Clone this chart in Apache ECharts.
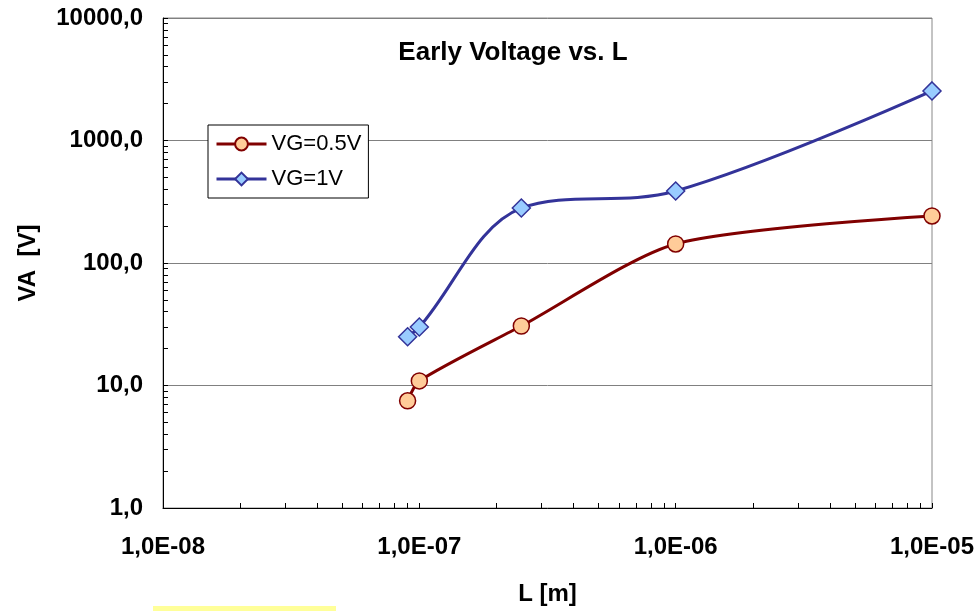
<!DOCTYPE html>
<html>
<head>
<meta charset="utf-8">
<script src="https://cdn.jsdelivr.net/npm/echarts@6/dist/echarts.min.js"></script>
<style>html,body{margin:0;padding:0;background:#fff}#c{width:979px;height:611px}</style>
</head>
<body>
<div id="c"></div>
<script>
// Data
const L = [9e-8, 1e-7, 2.5e-7, 1e-6, 1e-5];
const va05 = [7.5, 10.9, 30.6, 143, 242];
const va1 = [25, 30, 281, 387, 2540];
const seriesNames = ['VG=0.5V', 'VG=1V'];
const xTicks = [1e-8, 1e-7, 1e-6, 1e-5];
const yTicks = [1, 10, 100, 1000, 10000];

const FONT = 'Arial, "Liberation Sans", sans-serif';

function minorVals(lo, hi) {
  const out = [];
  for (let e = lo; e < hi; e++) {
    for (let m = 1; m <= 9; m++) out.push(parseFloat((m * Math.pow(10, e)).toPrecision(3)));
  }
  out.push(Math.pow(10, hi));
  return out;
}
function fmtX(v) {
  const e = Math.round(Math.log10(v));
  const m = v / Math.pow(10, e);
  return m.toFixed(1).replace('.', ',') + 'E' + (e < 0 ? '-' : '+') + String(Math.abs(e)).padStart(2, '0');
}
function fmtY(v) { return Number(v).toFixed(1).replace('.', ','); }

const chart = echarts.init(document.getElementById('c'), null, {renderer: 'canvas'});
const labelStyle = {fontFamily: FONT, fontWeight: 'bold', fontSize: 24, color: '#000'};

chart.setOption({
  animation: false,
  backgroundColor: '#fff',
  grid: {left: 163, right: 47, top: 18, bottom: 103, show: true, borderColor: '#888', borderWidth: 1,
         backgroundColor: 'transparent', containLabel: false, outerBoundsMode: 'none'},
  graphic: [
    {type: 'text', style: {text: 'Early Voltage vs. L', x: 513, y: 53, textAlign: 'center', textVerticalAlign: 'middle', font: 'bold 26px ' + FONT, fill: '#000'}},
    {type: 'rect', shape: {x: 153, y: 606, width: 183, height: 6}, style: {fill: '#FFFF99'}}
  ],
  legend: {
    orient: 'vertical', left: 208, top: 125,
    borderColor: '#000', borderWidth: 1, backgroundColor: '#fff',
    padding: [8, 7, 8, 7], itemGap: 13, itemWidth: 50, itemHeight: 16,
    lineStyle: {width: 3},
    textStyle: {fontFamily: FONT, fontSize: 22, color: '#000'},
    data: seriesNames
  },
  xAxis: [
    {type: 'log', logBase: 10, min: 1e-8, max: 1e-5,
     name: 'L [m]', nameLocation: 'middle', nameGap: 74, nameMoveOverlap: false,
     nameTextStyle: {fontFamily: FONT, fontWeight: 'bold', fontSize: 24, color: '#000'},
     axisLine: {lineStyle: {color: '#000', width: 1}},
     axisTick: {show: false},
     splitLine: {show: false},
     axisLabel: Object.assign({margin: 27, formatter: fmtX, customValues: xTicks}, labelStyle)},
    {type: 'log', logBase: 10, min: 1e-8, max: 1e-5, position: 'bottom', offset: 0,
     axisLine: {show: false}, axisLabel: {show: false}, splitLine: {show: false},
     axisTick: {show: true, inside: true, length: 5, lineStyle: {color: '#000'}, customValues: minorVals(-8, -5)}}
  ],
  yAxis: [
    {type: 'log', logBase: 10, min: 1, max: 10000,
     name: 'VA  [V]', nameLocation: 'middle', nameGap: 123, nameMoveOverlap: false,
     nameTextStyle: {fontFamily: FONT, fontWeight: 'bold', fontSize: 24, color: '#000'},
     axisLine: {show: true, lineStyle: {color: '#000', width: 1}},
     axisTick: {show: false},
     splitLine: {show: true, lineStyle: {color: '#808080', width: 1}},
     axisLabel: Object.assign({margin: 20, formatter: fmtY, customValues: yTicks}, labelStyle)},
    {type: 'log', logBase: 10, min: 1, max: 10000, position: 'left', offset: 0,
     axisLine: {show: false}, axisLabel: {show: false}, splitLine: {show: false},
     axisTick: {show: true, inside: true, length: 5, lineStyle: {color: '#000'}, customValues: minorVals(0, 4)}}
  ],
  series: [
    {name: seriesNames[0], type: 'line', smooth: 0.25,
     data: L.map((x, i) => [x, va05[i]]),
     symbol: 'circle', symbolSize: 16,
     lineStyle: {color: '#800000', width: 3},
     itemStyle: {color: '#FFCC99', borderColor: '#800000', borderWidth: 1.5}},
    {name: seriesNames[1], type: 'line', smooth: 0.35,
     data: L.map((x, i) => [x, va1[i]]),
     symbol: 'diamond', symbolSize: 18,
     lineStyle: {color: '#333399', width: 3},
     itemStyle: {color: '#99CCFF', borderColor: '#333399', borderWidth: 1.5}}
  ]
});
</script>
</body>
</html>
